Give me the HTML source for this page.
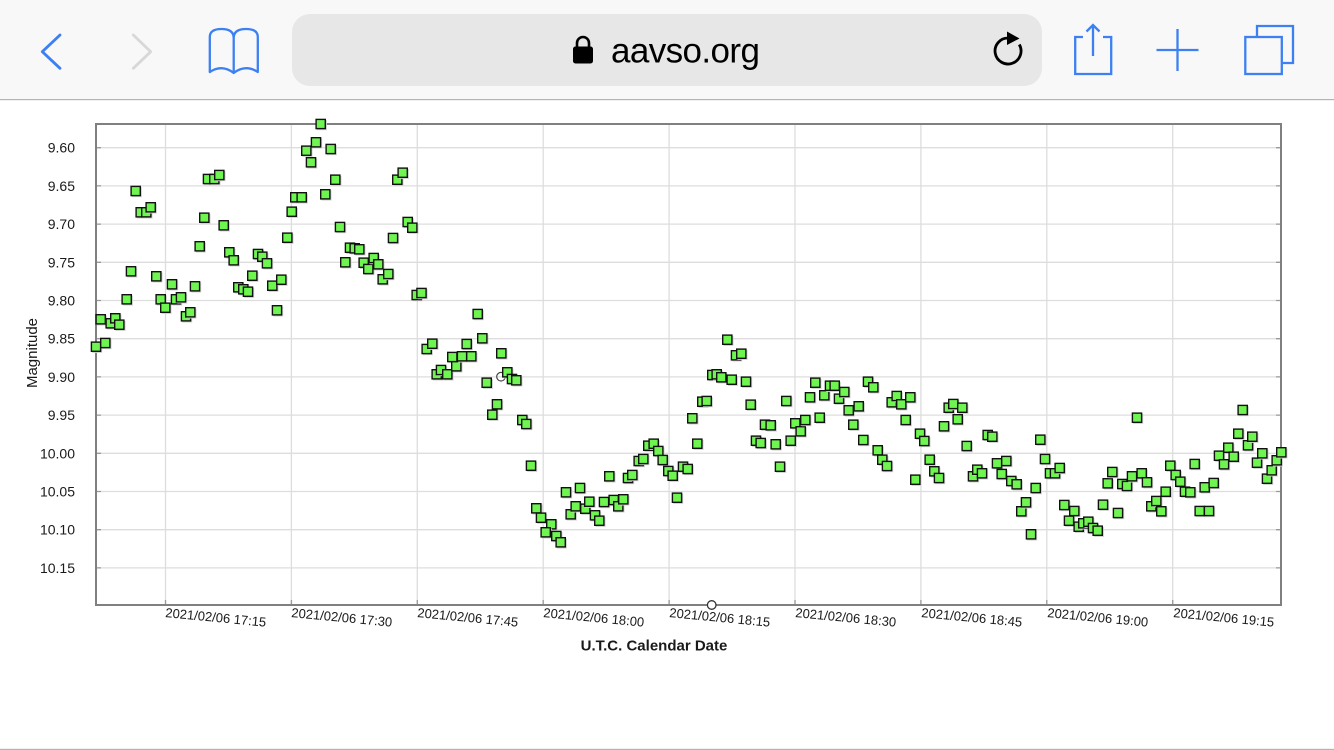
<!DOCTYPE html>
<html>
<head>
<meta charset="utf-8">
<style>
  html,body{margin:0;padding:0;background:#fff;}
  body{width:1334px;height:750px;overflow:hidden;}
  svg{display:block;}
  text{font-family:"Liberation Sans",Arial,sans-serif;}
</style>
</head>
<body>
<svg width="1334" height="750" viewBox="0 0 1334 750" xmlns="http://www.w3.org/2000/svg">
  <defs>
    <marker id="sq" markerWidth="14" markerHeight="14" refX="7" refY="7" markerUnits="userSpaceOnUse" overflow="visible">
      <rect x="3.2" y="3.2" width="10" height="10" fill="#cfcfcf"/>
      <rect x="2.4" y="2.4" width="9.2" height="9.2" fill="#6ef550" stroke="#111" stroke-width="1.4"/>
    </marker>
  </defs>

  <rect x="0" y="0" width="1334" height="99" fill="#f8f8f8"/>
  <rect x="0" y="99" width="1334" height="1.2" fill="#b4b4b4"/>
  <rect x="292" y="14" width="750" height="72" rx="18" ry="18" fill="#e7e7e7"/>
  <polyline points="60,35 42.3,51.7 60,68.3" fill="none" stroke="#3d80f2" stroke-width="2.8" stroke-linecap="round" stroke-linejoin="round"/>
  <polyline points="133.3,35 150.7,51.7 133.3,68.3" fill="none" stroke="#d8d8d8" stroke-width="2.8" stroke-linecap="round" stroke-linejoin="round"/>
  <path d="M209.8,72 V37 Q209.8,29 221.5,29 Q233.7,29 233.7,38 Q233.7,29 246,29 Q257.8,29 257.8,37 V72 Q245.5,64 233.7,73 Q222,64 209.8,72 Z M233.7,38 V73" fill="none" stroke="#3d80f2" stroke-width="2.3" stroke-linejoin="round"/>
  <path d="M577,47 V43 a6,6 0 0 1 12,0 V47" fill="none" stroke="#000" stroke-width="2.6"/>
  <rect x="573" y="46.5" width="20" height="17" rx="2.5" fill="#000"/>
  <text x="611" y="62.5" font-size="35" letter-spacing="-0.6" fill="#000">aavso.org</text>
  <path d="M1008,38 A13,13 0 1 0 1019.3,44.5" fill="none" stroke="#000" stroke-width="2.8"/>
  <polygon points="1007,31.5 1019.5,38.5 1007,45" fill="#000"/>
  <path d="M1083,37 H1075.2 V74 H1111.2 V37 H1103" fill="none" stroke="#3d80f2" stroke-width="2.3"/>
  <path d="M1093,25 V56 M1086.5,31.5 L1093,25 L1099.5,31.5" fill="none" stroke="#3d80f2" stroke-width="2.3"/>
  <path d="M1156.5,50 H1198.5 M1177.5,29 V71" fill="none" stroke="#3d80f2" stroke-width="2.3"/>
  <path d="M1257,37 V26 H1293 V63 H1282" fill="none" stroke="#3d80f2" stroke-width="2.3"/>
  <rect x="1245.3" y="37" width="36.5" height="37" fill="none" stroke="#3d80f2" stroke-width="2.3"/>

  <rect x="0" y="748.8" width="1334" height="1.2" fill="#b4b4b4"/>

  <path stroke="#dddddd" stroke-width="1.3" fill="none" d="M96,147.7H1281M96,185.9H1281M96,224.1H1281M96,262.3H1281M96,300.5H1281M96,338.7H1281M96,376.9H1281M96,415.1H1281M96,453.3H1281M96,491.5H1281M96,529.7H1281M96,567.9H1281M165.5,124V605M291.4,124V605M417.3,124V605M543.2,124V605M669.1,124V605M795,124V605M920.9,124V605M1046.8,124V605M1172.7,124V605"/>
  <path stroke="#9a9a9a" stroke-width="1.3" fill="none" d="M96,147.7h5M96,185.9h5M96,224.1h5M96,262.3h5M96,300.5h5M96,338.7h5M96,376.9h5M96,415.1h5M96,453.3h5M96,491.5h5M96,529.7h5M96,567.9h5M1281,147.7h-5M1281,185.9h-5M1281,224.1h-5M1281,262.3h-5M1281,300.5h-5M1281,338.7h-5M1281,376.9h-5M1281,415.1h-5M1281,453.3h-5M1281,491.5h-5M1281,529.7h-5M1281,567.9h-5M165.5,605v-5M291.4,605v-5M417.3,605v-5M543.2,605v-5M669.1,605v-5M795,605v-5M920.9,605v-5M1046.8,605v-5M1172.7,605v-5"/>
  <rect x="96" y="124" width="1185" height="481" fill="none" stroke="#808080" stroke-width="2"/>

  <g font-size="14" fill="#1a1a1a" text-anchor="end">
    <text x="75" y="152.7">9.60</text>
    <text x="75" y="190.9">9.65</text>
    <text x="75" y="229.1">9.70</text>
    <text x="75" y="267.3">9.75</text>
    <text x="75" y="305.5">9.80</text>
    <text x="75" y="343.7">9.85</text>
    <text x="75" y="381.9">9.90</text>
    <text x="75" y="420.1">9.95</text>
    <text x="75" y="458.3">10.00</text>
    <text x="75" y="496.5">10.05</text>
    <text x="75" y="534.7">10.10</text>
    <text x="75" y="572.9">10.15</text>
  </g>
  <text transform="translate(37,353) rotate(-90)" font-size="15" text-anchor="middle" fill="#1a1a1a">Magnitude</text>

  <g font-size="13" fill="#1a1a1a">
    <text x="165" y="617" transform="rotate(5.5 165 617)">2021/02/06 17:15</text>
    <text x="291" y="617" transform="rotate(5.5 291 617)">2021/02/06 17:30</text>
    <text x="417" y="617" transform="rotate(5.5 417 617)">2021/02/06 17:45</text>
    <text x="543" y="617" transform="rotate(5.5 543 617)">2021/02/06 18:00</text>
    <text x="669" y="617" transform="rotate(5.5 669 617)">2021/02/06 18:15</text>
    <text x="795" y="617" transform="rotate(5.5 795 617)">2021/02/06 18:30</text>
    <text x="921" y="617" transform="rotate(5.5 921 617)">2021/02/06 18:45</text>
    <text x="1047" y="617" transform="rotate(5.5 1047 617)">2021/02/06 19:00</text>
    <text x="1173" y="617" transform="rotate(5.5 1173 617)">2021/02/06 19:15</text>
  </g>
  <text x="654" y="650.5" font-size="15" font-weight="bold" text-anchor="middle" fill="#1a1a1a">U.T.C. Calendar Date</text>

  <circle cx="501" cy="376.7" r="4.3" fill="none" stroke="#444" stroke-width="1.2"/>
  <circle cx="711.7" cy="605" r="4.3" fill="#fff" stroke="#333" stroke-width="1.3"/>

  <polyline fill="none" stroke="none" marker-start="url(#sq)" marker-mid="url(#sq)" marker-end="url(#sq)"
    points="96,346.7 105.3,343 100.7,319.3 110.7,323.3 115.3,318.3 119.3,324.7 126.7,299.3 131,271.3 135.7,191 140.7,212.3 146.3,212.3 150.7,207.3 156.3,276.3 160.7,299.3 165.3,307.7 172,284.3 176,299.3 181,297.3 186,316.3 190.3,312.3 195,286.3 199.7,246.3 204.3,217.7 208,179 214.3,179 219.3,175 223.7,225.3 229.3,252.3 233.7,260.3 238.3,287.3 243.3,289.3 248,291.7 252.3,275.7 258,254 262.3,256.7 267,263.3 272.3,285.7 277,310.3 281.3,279.7 287.3,237.7 291.7,211.7 295.3,197.3 301.7,197.3 306.3,150.7 311,162.3 316,142.3 320.7,124 330.7,149 325.3,194.3 335.3,179.7 340,227 345.3,262.3 350,247.7 354.7,248.3 359.3,249.3 363.7,262.7 368.3,269 373.7,258 378.3,264.3 382.7,279.3 388.3,274 393,238 397.3,179.7 402.7,172.7 407.7,222 412.3,227.7 416.7,295 421.5,293
    426.7,349 432.3,343.7 436.7,374.3 441,370 447.3,374.3 452.3,357 456.3,366.3 462,356.3 471.3,356.3 466.7,344 477.7,314 482.3,338.3 486.7,382.7 501.3,353.3 507.3,372.3 512,379 516.3,380.3 497,404.3 492.3,414.7 522.3,420 526.3,424 531,465.7 536.3,508.3 541,517.7 551.3,524.3 545.7,532.3 556.3,536 560.7,542.3 566,492.3 570.7,514.3 575.7,506.3 580,488 585.3,508.7 589.3,501.7 595,515.3 599.3,520.7 604,502 609.3,476.3 613.7,500 618.3,506.3 623.3,499.3 628,478 632.3,475 638.7,461 643.3,459 648.3,445.7 653.7,443.7 658.3,451 662.7,460 668.3,471 672.7,475.7 683,466.7 687.7,469 677,497.7 697.3,443.7 692.3,418.3 702.3,401.7 706.7,401 712.3,375 716.7,374.3 721.3,377.3 731.7,379.7 727.3,339.7 736,355.3
    741.3,353.7 746,381.7 750.7,404.7 765,424.7 770.7,425.3 756,440.7 760.7,443 775.7,444.3 780,466.7 786.3,401 790.7,440.7 795.3,423.3 800.7,431.3 805.3,420 810,397.3 815.3,382.7 819.7,417.7 824.3,395.3 830,385.7 834.7,385.7 839,398.7 844.3,392 848.7,410.3 858.7,406.3 853.3,424.7 863.3,440 868,381.7 873.3,387.3 877.7,450.3 882.3,459.7 887,466 891.7,402.3 896.7,396 901.3,404.3 910.3,397.3 905.7,420 915.3,479.7 920,433.7 924.3,441 929.7,459.7 934.3,471.3 939,478 944,426.3 948.7,407.7 953.3,404 962.3,407.7 957.7,419.3 966.7,446 973,476.3 977.3,469.7 982,473.3 987.7,435 992.3,436.7 997,463.3 1001.7,474 1006.3,461 1011.3,481 1016.7,484.3 1021.3,511.3 1026,502.3 1031,534.3 1035.7,488 1040.3,439.7 1045,459 1050,473.3 1055,473.3 1059.7,468
    1064.3,505 1074.3,511 1069,520.7 1078.7,526.7 1083.3,523.3 1088.3,521.7 1093,528 1097.7,530.7 1103,504.7 1107.7,483.3 1112.3,472 1118,513 1122.3,484 1127,486 1132,476.3 1137,417.7 1141.7,473.3 1147,482.3 1151.3,506.3 1156.3,501 1161.3,511.3 1165.7,491.7 1170.3,465.7 1175.7,475 1180.3,481.7 1185,491.7 1190.3,492.3 1194.7,464 1199.7,511 1209,511 1204.7,487.3 1213.7,483 1219,455.7 1224,464.3 1228.3,447.7 1233.7,456.7 1238.3,433.7 1242.7,410 1248,445.3 1252.3,436.7 1257,462.7 1262.3,453.3 1267,478.7 1271.7,470.3 1276.7,460.3 1281.3,452.3"/>
</svg>
</body>
</html>
